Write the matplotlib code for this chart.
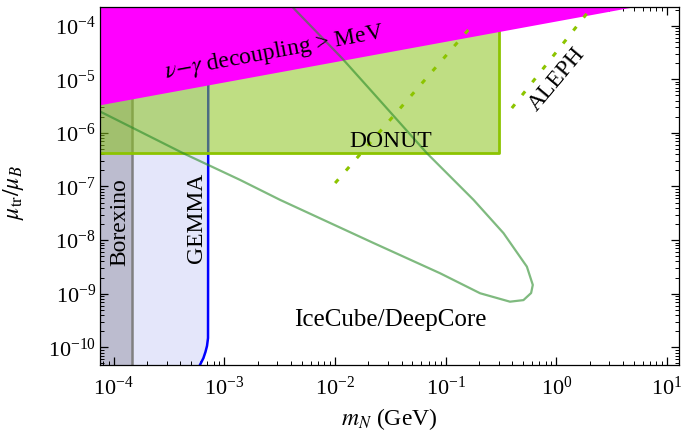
import numpy as np
import matplotlib
matplotlib.use("Agg")
import matplotlib.pyplot as plt
from matplotlib.ticker import (LogLocator, FixedLocator, LogFormatterMathtext,
                               NullFormatter)

plt.rcParams["font.family"] = ["Liberation Serif", "DejaVu Serif"]
plt.rcParams["mathtext.fontset"] = "stix"

# ---- data ------------------------------------------------------------------
xlim = (7.5e-5, 12.8)
ylim = (4.68e-11, 2.23e-4)
xticks = [1e-4, 1e-3, 1e-2, 1e-1, 1e0, 1e1]
yticks = [1e-10, 1e-9, 1e-8, 1e-7, 1e-6, 1e-5, 1e-4]

# nu-gamma decoupling > MeV (straight line in log-log)
decoup_m = [7.5e-5, 13.0]
decoup_mu = [3.35e-6, 3.24e-4]

# DONUT box
donut_m_max = 0.305
donut_mu_min = 4.2e-7

# Borexino / GEMMA vertical bounds
borexino_m = 1.45e-4
gemma_mu = [4.68e-11, 6.3e-11, 8.2e-11, 1.06e-10, 1.49e-10, 1e-3]
gemma_m = [6.0e-4, 6.45e-4, 6.73e-4, 6.95e-4, 7.1e-4, 7.15e-4]

# IceCube/DeepCore contour
ice_m = [7.5e-5, 4.21e-4, 1.38e-3, 3.18e-3, 2.21e-2, 8.87e-2, 0.204, 0.380,
         0.503, 0.590, 0.611, 0.540, 0.332, 0.178, 6.73e-2, 2.21e-2, 1.15e-2,
         4.19e-3, 3.9e-3]
ice_mu = [2.51e-6, 4.2e-7, 1.33e-7, 5.63e-8, 8.87e-9, 2.41e-9, 1.02e-9, 7.1e-10,
          7.6e-10, 1.03e-9, 1.46e-9, 3.2e-9, 1.35e-8, 5.64e-8, 4.2e-7, 5.53e-6,
          2.49e-5, 2.14e-4, 3.0e-4]

# dashed lines (ALEPH etc.)
dash1_m = [1.0e-2, 0.165]
dash1_mu = [1.16e-7, 0.9e-4]
aleph_m = [0.395, 1.95]
aleph_mu = [2.9e-6, 1.85e-4]

TOP = 1e-3

fig = plt.figure(figsize=(6.82, 4.33), dpi=100)
ax = fig.add_axes([100 / 682, 1 - 365 / 433, 579 / 682, 358 / 433])
ax.set_xscale("log")
ax.set_yscale("log")
ax.set_xlim(*xlim)
ax.set_ylim(*ylim)

# Borexino + GEMMA regions
ax.fill_betweenx([ylim[0], TOP], xlim[0], borexino_m, color="#bcbccf", lw=0, zorder=1)
ax.fill_betweenx(gemma_mu, borexino_m, gemma_m, color="#e4e6fa", lw=0, zorder=1)
ax.plot([borexino_m, borexino_m], [ylim[0], TOP], color="#808080", lw=1.8, zorder=2)
ax.plot(gemma_m, gemma_mu, color="#0000ff", lw=1.8, zorder=2)

# DONUT box
ax.fill_between([xlim[0], donut_m_max], donut_mu_min, TOP,
                color="#8cc41e", alpha=0.55, lw=0, zorder=3)
ax.plot([xlim[0], donut_m_max, donut_m_max], [donut_mu_min, donut_mu_min, TOP],
        color="#8cc400", lw=2.0, zorder=4)

# decoupling region
ax.fill_between(decoup_m, decoup_mu, TOP, color="#ff00ff", lw=0, zorder=5)

# IceCube/DeepCore
ax.plot(ice_m, ice_mu, color="#2a8c2a", alpha=0.6, lw=1.6, zorder=6)

# dashed lines
for xm, ym in [(dash1_m, dash1_mu), (aleph_m, aleph_mu)]:
    ln, = ax.plot(xm, ym, color="#8cc400", lw=2.2, zorder=7)
    ln.set_dashes([1.6, 3.8])

# labels
fs = 17
ax.text(2.86e-3, 3.2e-5, r"$\nu$$-$$\gamma$ decoupling > MeV", rotation=10.5,
        ha="center", va="center", fontsize=fs, zorder=8)
ax.text(3.15e-2, 6.83e-7, "DONUT", ha="center", va="center", fontsize=fs, zorder=8)
ax.text(1.01, 9.8e-6, "ALEPH", rotation=50, ha="center", va="center", fontsize=fs, zorder=8)
ax.text(1.135e-4, 2.19e-8, "Borexino", rotation=90, ha="center", va="center",
        fontsize=fs, zorder=8)
ax.text(5.64e-4, 2.6e-8, "GEMMA", rotation=90, ha="center", va="center",
        fontsize=fs, zorder=8)
ax.text(3.15e-2, 3.24e-10, "IceCube/DeepCore", ha="center", va="center",
        fontsize=18, zorder=8)

ax.set_xlabel(r"$m_N$ (GeV)", fontsize=fs)
ax.set_ylabel(r"$\mu_{\rm tr}/\mu_B$", fontsize=fs)
ax.xaxis.set_label_coords(0.5, -0.115)
ax.yaxis.set_label_coords(-0.128, 0.483)

# ticks
ax.xaxis.set_major_locator(FixedLocator(xticks))
ax.yaxis.set_major_locator(FixedLocator(yticks))
for axis in (ax.xaxis, ax.yaxis):
    axis.set_minor_locator(LogLocator(base=10, subs=np.arange(2, 10), numticks=20))
    axis.set_major_formatter(LogFormatterMathtext())
    axis.set_minor_formatter(NullFormatter())
ax.tick_params(which="both", direction="in", top=True, right=True, labelsize=16)
ax.tick_params(which="major", length=6, width=0.9)
ax.tick_params(axis="x", which="major", pad=8)
ax.tick_params(axis="y", which="major", pad=3)
ax.tick_params(which="minor", length=3, width=0.7)
for sp in ax.spines.values():
    sp.set_linewidth(0.9)
    sp.set_zorder(10)

fig.savefig("out.png", dpi=100)
